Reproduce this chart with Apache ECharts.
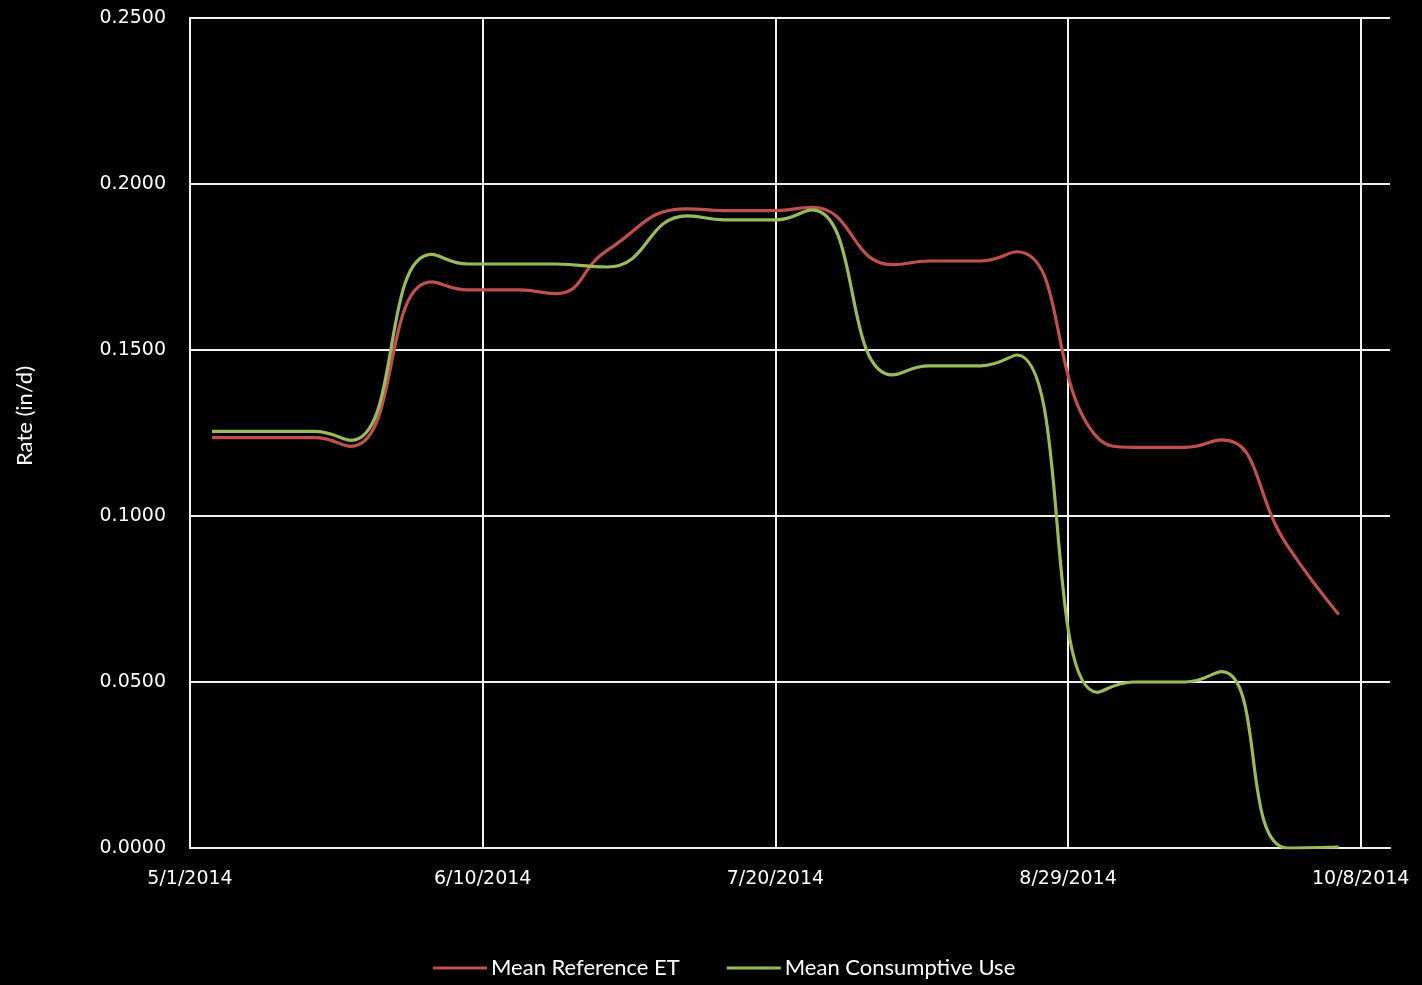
<!DOCTYPE html>
<html>
<head>
<meta charset="utf-8">
<title>Mean Reference ET vs Mean Consumptive Use</title>
<script src="https://cdn.jsdelivr.net/npm/echarts@6/dist/echarts.min.js"></script>
<style>
  html, body { margin: 0; padding: 0; background: #000; }
  #chart { width: 1422px; height: 985px; }
</style>
</head>
<body>
<div id="chart"></div>
<script>
// Observation dates for the 2014 season
const dates = [
  '2014-05-04', '2014-05-18', '2014-05-23', '2014-06-03', '2014-06-08',
  '2014-06-15', '2014-06-20', '2014-06-27', '2014-07-08', '2014-07-13',
  '2014-07-20', '2014-07-25', '2014-08-05', '2014-08-10', '2014-08-17',
  '2014-08-22', '2014-09-02', '2014-09-07', '2014-09-14', '2014-09-19',
  '2014-09-28', '2014-10-05'
];

// Mean reference ET (in/d)
const referenceET = [
  0.1236, 0.1236, 0.1210, 0.1705, 0.1681,
  0.1681, 0.1670, 0.1800, 0.1925, 0.1920,
  0.1920, 0.1930, 0.1757, 0.1768, 0.1768,
  0.1796, 0.1237, 0.1207, 0.1207, 0.1229,
  0.0910, 0.0703
];

// Mean consumptive use (in/d)
const consumptiveUse = [
  0.1255, 0.1255, 0.1228, 0.1788, 0.1759,
  0.1759, 0.1759, 0.1750, 0.1904, 0.1892,
  0.1892, 0.1922, 0.1425, 0.1452, 0.1452,
  0.1485, 0.0469, 0.0500, 0.0500, 0.0531,
  0.0000, 0.0003
];

// Axis tick labels
const xTickLabels = ['5/1/2014', '6/10/2014', '7/20/2014', '8/29/2014', '10/8/2014'];
const yTickLabels = ['0.0000', '0.0500', '0.1000', '0.1500', '0.2000', '0.2500'];

const seriesNames = ['Mean Reference ET', 'Mean Consumptive Use'];

// x values are days counted from the season start (5/1/2014)
const DAY = 86400000;
const START = Date.UTC(2014, 4, 1);
function dayOffset(s) {
  const p = s.split('-').map(Number);
  return Math.round((Date.UTC(p[0], p[1] - 1, p[2]) - START) / DAY);
}
function fmtDay(v) {
  const d = new Date(START + v * DAY);
  return (d.getUTCMonth() + 1) + '/' + d.getUTCDate() + '/' + d.getUTCFullYear();
}
const xs = dates.map(dayOffset);
const pairs = arr => arr.map((v, i) => [xs[i], v]);

const GRID = '#f2f2f2';
const tickFont = { color: '#ffffff', fontFamily: 'DejaVu Sans', fontSize: 19 };

const chart = echarts.init(document.getElementById('chart'), null, { renderer: 'canvas' });
chart.setOption({
  backgroundColor: '#000000',
  animation: false,
  grid: { left: 190, right: 32, top: 18, bottom: 137, containLabel: false },
  xAxis: {
    type: 'value',
    min: 0,
    max: 164,
    interval: 40,
    axisLine: { show: true, lineStyle: { color: GRID, width: 2 } },
    axisTick: { show: false },
    // no gridline at the right end of the axis
    splitLine: {
      show: true,
      showMaxLine: false,
      lineStyle: { color: GRID, width: 2 }
    },
    axisLabel: Object.assign({
      margin: 22,
      showMaxLabel: false,
      formatter: function (v) {
        const i = Math.round(v / 40);
        return xTickLabels[i] !== undefined ? xTickLabels[i] : fmtDay(v);
      }
    }, tickFont)
  },
  yAxis: {
    type: 'value',
    min: 0,
    max: 0.25,
    interval: 0.05,
    axisLine: { show: true, lineStyle: { color: GRID, width: 2 } },
    axisTick: { show: false },
    splitLine: { show: true, lineStyle: { color: GRID, width: 2 } },
    axisLabel: Object.assign({
      margin: 24,
      formatter: function (v) {
        const i = Math.round(v / 0.05);
        return yTickLabels[i] !== undefined ? yTickLabels[i] : v.toFixed(4);
      }
    }, tickFont)
  },
  legend: {
    left: 433,
    top: 957,
    padding: 0,
    itemWidth: 54,
    itemHeight: 3,
    itemGap: 47,
    icon: 'rect',
    textStyle: { color: '#ffffff', fontFamily: 'Lato', fontSize: 22, padding: [0, 0, 0, -1] },
    data: seriesNames
  },
  graphic: [{
    type: 'text',
    x: 25,
    y: 416,
    rotation: Math.PI / 2,
    style: {
      text: 'Rate (in/d)',
      fill: '#ffffff',
      font: '22px Lato',
      textAlign: 'center',
      textVerticalAlign: 'middle'
    }
  }],
  series: [
    {
      name: seriesNames[0],
      type: 'line',
      smooth: 0.5,
      showSymbol: false,
      symbol: 'none',
      clip: true,
      lineStyle: { color: '#C0504D', width: 3.2 },
      itemStyle: { color: '#C0504D' },
      data: pairs(referenceET)
    },
    {
      name: seriesNames[1],
      type: 'line',
      smooth: 0.5,
      showSymbol: false,
      symbol: 'none',
      clip: true,
      lineStyle: { color: '#9BBB59', width: 3.2 },
      itemStyle: { color: '#9BBB59' },
      data: pairs(consumptiveUse)
    }
  ]
});
</script>
</body>
</html>
